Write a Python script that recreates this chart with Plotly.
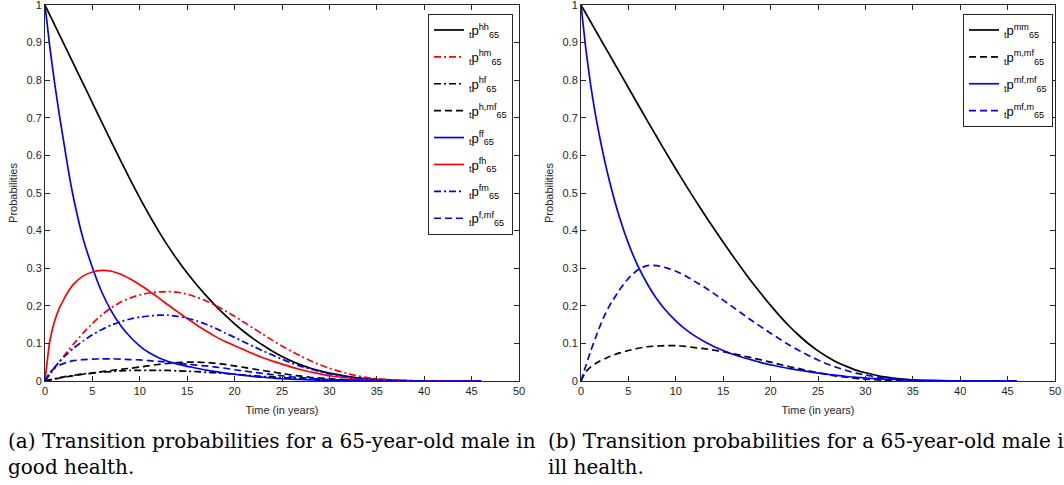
import plotly.graph_objects as go

# time grid (years)
T = [0, 0.5, 1, 1.5, 2, 2.5, 3, 4, 5, 6, 7, 8, 9, 10, 11, 12, 13, 14, 15, 16, 17, 18, 19, 20,
     21, 22, 23, 24, 25, 26, 27, 28, 29, 30, 32, 34, 36, 38, 40, 46]

# (a) good health
p_hh = [1, 0.974, 0.948, 0.922, 0.896, 0.870, 0.844, 0.792, 0.740, 0.688, 0.636, 0.585, 0.535, 0.487,
        0.441, 0.398, 0.358, 0.321, 0.287, 0.256, 0.227, 0.200, 0.175, 0.152,
        0.131, 0.112, 0.095, 0.079, 0.065, 0.053, 0.043, 0.034, 0.027, 0.021, 0.012, 0.006, 0.003, 0.001, 0, 0]
p_hm = [0, 0.017, 0.034, 0.051, 0.067, 0.083, 0.098, 0.127, 0.153, 0.176, 0.195, 0.21, 0.221, 0.229,
        0.234, 0.237, 0.238, 0.236, 0.231, 0.223, 0.213, 0.201, 0.187, 0.172,
        0.156, 0.14, 0.124, 0.108, 0.093, 0.079, 0.066, 0.054, 0.043, 0.034, 0.019, 0.009, 0.004, 0.001, 0, 0]
p_hf = [0, 0.003, 0.006, 0.008, 0.011, 0.013, 0.015, 0.019, 0.021, 0.024, 0.025, 0.027, 0.028, 0.028,
        0.028, 0.028, 0.028, 0.027, 0.026, 0.025, 0.023, 0.022, 0.02, 0.018,
        0.016, 0.014, 0.012, 0.011, 0.009, 0.008, 0.006, 0.005, 0.004, 0.003, 0.002, 0.001, 0, 0, 0, 0]
p_hmf = [0, 0.003, 0.005, 0.008, 0.01, 0.012, 0.014, 0.018, 0.021, 0.025, 0.028, 0.031, 0.034, 0.037,
         0.041, 0.044, 0.047, 0.049, 0.05, 0.05, 0.049, 0.047, 0.044, 0.04,
         0.036, 0.032, 0.028, 0.024, 0.02, 0.016, 0.013, 0.01, 0.008, 0.006, 0.003, 0.001, 0, 0, 0, 0]
p_ff = [1, 0.89, 0.795, 0.71, 0.632, 0.555, 0.488, 0.38, 0.302, 0.236, 0.186, 0.147, 0.117, 0.093,
        0.075, 0.062, 0.052, 0.045, 0.039, 0.034, 0.029, 0.025, 0.021, 0.018,
        0.015, 0.012, 0.01, 0.008, 0.006, 0.005, 0.004, 0.003, 0.002, 0.002, 0.001, 0, 0, 0, 0, 0]
p_fh = [0, 0.105, 0.158, 0.193, 0.218, 0.24, 0.257, 0.279, 0.29, 0.294, 0.292, 0.284, 0.271, 0.256,
        0.239, 0.221, 0.202, 0.184, 0.166, 0.149, 0.133, 0.118, 0.105, 0.094,
        0.083, 0.072, 0.062, 0.053, 0.045, 0.037, 0.03, 0.024, 0.019, 0.014, 0.008, 0.004, 0.001, 0, 0, 0]
p_fm = [0, 0.019, 0.036, 0.051, 0.064, 0.076, 0.087, 0.106, 0.123, 0.137, 0.149, 0.158, 0.165, 0.17,
        0.173, 0.175, 0.175, 0.172, 0.167, 0.16, 0.151, 0.14, 0.128, 0.116,
        0.104, 0.092, 0.08, 0.069, 0.058, 0.048, 0.039, 0.032, 0.025, 0.019, 0.011, 0.005, 0.002, 0.001, 0, 0]
p_fmf = [0, 0.022, 0.034, 0.042, 0.047, 0.051, 0.054, 0.057, 0.058, 0.059, 0.059, 0.058, 0.057, 0.056,
         0.054, 0.052, 0.05, 0.047, 0.045, 0.042, 0.04, 0.037, 0.034, 0.03,
         0.027, 0.023, 0.02, 0.017, 0.014, 0.011, 0.009, 0.007, 0.005, 0.004, 0.002, 0.001, 0, 0, 0, 0]

# (b) ill health
p_mm = [1, 0.978, 0.956, 0.934, 0.912, 0.89, 0.868, 0.824, 0.78, 0.736, 0.692, 0.649, 0.606, 0.564,
        0.523, 0.483, 0.444, 0.406, 0.369, 0.333, 0.298, 0.264, 0.232, 0.201,
        0.172, 0.145, 0.121, 0.099, 0.08, 0.064, 0.05, 0.039, 0.029, 0.022, 0.011, 0.005, 0.002, 0.001, 0, 0]
p_mmf = [0, 0.024, 0.037, 0.046, 0.053, 0.059, 0.065, 0.074, 0.081, 0.087, 0.091, 0.093, 0.094, 0.094,
         0.092, 0.089, 0.086, 0.082, 0.078, 0.073, 0.067, 0.062, 0.056, 0.05,
         0.044, 0.038, 0.033, 0.027, 0.022, 0.017, 0.013, 0.01, 0.007, 0.005, 0.002, 0.001, 0, 0, 0, 0]
p_mfmf = [1, 0.885, 0.79, 0.712, 0.645, 0.585, 0.532, 0.44, 0.366, 0.306, 0.258, 0.218, 0.186, 0.16,
          0.138, 0.12, 0.105, 0.092, 0.081, 0.071, 0.063, 0.056, 0.049, 0.043,
          0.038, 0.033, 0.029, 0.025, 0.021, 0.018, 0.015, 0.012, 0.01, 0.008, 0.005, 0.003, 0.001, 0, 0, 0]
p_mfm = [0, 0.04, 0.078, 0.113, 0.146, 0.175, 0.2, 0.24, 0.273, 0.296, 0.307, 0.307, 0.301, 0.292,
         0.28, 0.265, 0.25, 0.233, 0.215, 0.197, 0.179, 0.161, 0.144, 0.127,
         0.111, 0.095, 0.081, 0.068, 0.056, 0.045, 0.036, 0.028, 0.021, 0.016, 0.008, 0.004, 0.001, 0, 0, 0]

x_ticks = [0, 5, 10, 15, 20, 25, 30, 35, 40, 45, 50]
y_ticks = [0, 0.1, 0.2, 0.3, 0.4, 0.5, 0.6, 0.7, 0.8, 0.9, 1]
y_ticklabels = ["0", "0.1", "0.2", "0.3", "0.4", "0.5", "0.6", "0.7", "0.8", "0.9", "1"]

def lab(sup):
    return "<sub>t</sub>p<sup>" + sup + "</sup><sub>65</sub>"

DASH = "7px,4px"
DASHDOT = "7px,3px,2px,3px"

left = [
    (p_hh, "hh", "#000000", "solid"),
    (p_hm, "hm", "#FF0000", DASHDOT),
    (p_hf, "hf", "#000000", DASHDOT),
    (p_hmf, "h,mf", "#000000", DASH),
    (p_ff, "ff", "#0000FF", "solid"),
    (p_fh, "fh", "#FF0000", "solid"),
    (p_fm, "fm", "#0000FF", DASHDOT),
    (p_fmf, "f,mf", "#0000FF", DASH),
]
right = [
    (p_mm, "mm", "#000000", "solid"),
    (p_mmf, "m,mf", "#000000", DASH),
    (p_mfmf, "mf,mf", "#0000FF", "solid"),
    (p_mfm, "mf,m", "#0000FF", DASH),
]

fig = go.Figure()
for i, (ys, sup, col, dash) in enumerate(left):
    fig.add_trace(go.Scatter(x=T, y=ys, mode="lines", name=lab(sup),
                             line=dict(color=col, width=1.7, dash=dash, shape="spline", smoothing=0.5),
                             xaxis="x", yaxis="y", legend="legend", legendgroup="a%d" % i))
for i, (ys, sup, col, dash) in enumerate(right):
    fig.add_trace(go.Scatter(x=T, y=ys, mode="lines", name=lab(sup),
                             line=dict(color=col, width=1.7, dash=dash, shape="spline", smoothing=0.5),
                             xaxis="x2", yaxis="y2", legend="legend2", legendgroup="b%d" % i))

axis_font = dict(family="Liberation Sans", size=11, color="#262626")
common_x = dict(range=[0, 50], tickvals=x_ticks, ticks="inside", ticklen=5, tickcolor="#262626",
                showline=True, linecolor="#262626", linewidth=1, mirror="ticks", showgrid=False,
                zeroline=False, tickfont=axis_font, ticklabeloverflow="allow", automargin=False,
                title=dict(text="Time (in years)", font=axis_font, standoff=10))
common_y = dict(range=[0, 1], tickvals=y_ticks, ticktext=y_ticklabels, ticks="inside", ticklen=5,
                tickcolor="#262626", showline=True, linecolor="#262626", linewidth=1, mirror="ticks",
                showgrid=False, zeroline=False, tickfont=axis_font, ticklabeloverflow="allow",
                automargin=False,
                title=dict(text="Probabilities", font=axis_font, standoff=6))

leg_common = dict(bgcolor="white", bordercolor="#262626", borderwidth=1,
                  font=dict(family="Liberation Sans", size=13, color="black"),
                  xanchor="right", yanchor="top", tracegroupgap=7, itemwidth=30)

fig.update_layout(
    width=1064, height=485, autosize=False,
    margin=dict(l=0, r=0, t=0, b=0, pad=0, autoexpand=False),
    paper_bgcolor="white", plot_bgcolor="white",
    xaxis=dict(domain=[45/1064, 519/1064], anchor="y", **common_x),
    yaxis=dict(domain=[1-381/485, 1-5/485], anchor="x", **common_y),
    xaxis2=dict(domain=[581/1064, 1055/1064], anchor="y2", **common_x),
    yaxis2=dict(domain=[1-381/485, 1-5/485], anchor="x2", **common_y),
    legend=dict(x=513/1064, y=1-14/485, **leg_common),
    legend2=dict(x=1053/1064, y=1-14/485, **leg_common),
    showlegend=True,
)

cap_font = dict(family="DejaVu Serif, serif", size=20, color="black")
captions = [
    (6/1064, "(a) Transition probabilities for a 65-year-old male in<br>good health."),
    (546/1064, "(b) Transition probabilities for a 65-year-old male in<br>ill health."),
]
for xp, txt in captions:
    fig.add_annotation(x=xp, y=1-427/485, xref="paper", yref="paper", xanchor="left", yanchor="top",
                       text=txt, showarrow=False, align="left", font=cap_font)

fig.write_html("out.html")
